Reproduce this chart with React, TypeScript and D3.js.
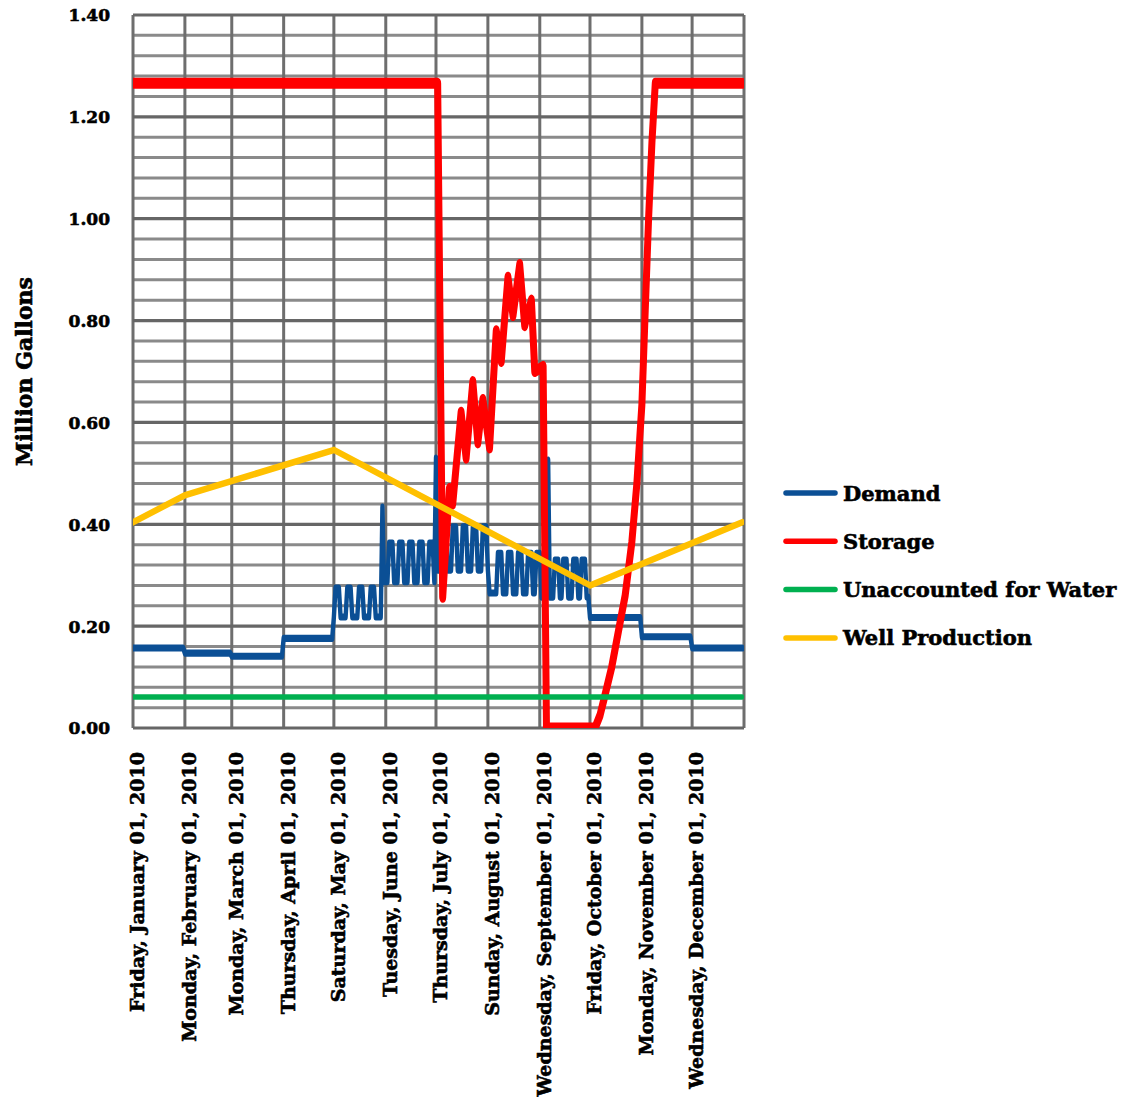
import React from "react";
import * as d3 from "d3";

// Daily water balance, 2010 (million gallons)
const yearStart = "2010-01-01";
const yearEnd = "2011-01-01";

const yTickValues = [0, 0.2, 0.4, 0.6, 0.8, 1.0, 1.2, 1.4];
const yMinorStep = 0.04;

const seriesNames = ["Demand", "Storage", "Unaccounted for Water", "Well Production"];
const seriesColors = ["#0b4f95", "#ff0000", "#00b050", "#ffc000"];

const demand: [string, number][] = [
  ["01-01", 0.157], ["01-31", 0.157],
  ["02-01", 0.147], ["02-28", 0.147],
  ["03-01", 0.141], ["03-31", 0.141],
  ["04-01", 0.176], ["04-30", 0.176],
  ["05-01", 0.218], ["05-02", 0.275], ["05-04", 0.275], ["05-05", 0.218],
  ["05-08", 0.218], ["05-09", 0.275], ["05-11", 0.275], ["05-12", 0.218],
  ["05-15", 0.218], ["05-16", 0.275], ["05-18", 0.275], ["05-19", 0.218],
  ["05-22", 0.218], ["05-23", 0.275], ["05-25", 0.275], ["05-26", 0.218],
  ["05-29", 0.218], ["05-30", 0.434], ["05-31", 0.287],
  ["06-02", 0.287], ["06-03", 0.363], ["06-05", 0.363], ["06-06", 0.287],
  ["06-08", 0.287], ["06-09", 0.363], ["06-11", 0.363], ["06-12", 0.287],
  ["06-14", 0.287], ["06-15", 0.363], ["06-17", 0.363], ["06-18", 0.287],
  ["06-20", 0.287], ["06-21", 0.363], ["06-23", 0.363], ["06-24", 0.287],
  ["06-26", 0.287], ["06-27", 0.363], ["06-29", 0.363], ["06-30", 0.287],
  ["07-01", 0.53], ["07-02", 0.31],
  ["07-04", 0.31], ["07-05", 0.395], ["07-07", 0.395], ["07-08", 0.31],
  ["07-10", 0.31], ["07-11", 0.395], ["07-13", 0.395], ["07-14", 0.31],
  ["07-16", 0.31], ["07-17", 0.395], ["07-19", 0.395], ["07-20", 0.31],
  ["07-22", 0.31], ["07-23", 0.395], ["07-25", 0.395], ["07-26", 0.31],
  ["07-28", 0.31], ["07-29", 0.395], ["07-31", 0.395], ["08-01", 0.31], ["08-02", 0.265],
  ["08-06", 0.265], ["08-07", 0.343], ["08-09", 0.343], ["08-10", 0.265],
  ["08-12", 0.265], ["08-13", 0.343], ["08-15", 0.343], ["08-16", 0.265],
  ["08-18", 0.265], ["08-19", 0.343], ["08-21", 0.343], ["08-22", 0.265],
  ["08-24", 0.265], ["08-25", 0.343], ["08-27", 0.343], ["08-28", 0.265],
  ["08-29", 0.265], ["08-30", 0.343], ["09-01", 0.343], ["09-02", 0.257],
  ["09-05", 0.257], ["09-06", 0.526], ["09-07", 0.257],
  ["09-09", 0.257], ["09-10", 0.33], ["09-12", 0.33], ["09-13", 0.257],
  ["09-14", 0.257], ["09-15", 0.33], ["09-17", 0.33], ["09-18", 0.257],
  ["09-20", 0.257], ["09-21", 0.33], ["09-23", 0.33], ["09-24", 0.257],
  ["09-25", 0.257], ["09-26", 0.33], ["09-28", 0.33], ["09-29", 0.257],
  ["09-30", 0.257], ["10-01", 0.217], ["10-31", 0.217],
  ["11-01", 0.179], ["11-30", 0.179],
  ["12-01", 0.157], ["12-31", 0.157],
];

const storage: [string, number][] = [
  ["01-01", 1.266], ["07-02", 1.266], ["07-05", 0.257], ["07-09", 0.47], ["07-11", 0.44],
  ["07-16", 0.62], ["07-19", 0.53], ["07-23", 0.68], ["07-26", 0.56], ["07-29", 0.645],
  ["08-02", 0.55], ["08-06", 0.78], ["08-09", 0.72], ["08-13", 0.885], ["08-16", 0.81],
  ["08-20", 0.91], ["08-23", 0.79], ["08-27", 0.84], ["08-29", 0.7], ["09-03", 0.71],
  ["09-05", 0.0], ["10-04", 0.0], ["10-07", 0.025], ["10-10", 0.065], ["10-14", 0.12],
  ["10-18", 0.19], ["10-22", 0.26], ["10-26", 0.365], ["10-29", 0.48], ["11-01", 0.635],
  ["11-03", 0.82], ["11-05", 1.0], ["11-07", 1.15], ["11-09", 1.266], ["12-31", 1.266],
];

const unaccounted: [string, number][] = [["01-01", 0.061], ["12-31", 0.061]];

const wellProduction: [string, number][] = [
  ["01-01", 0.404], ["02-01", 0.457], ["05-01", 0.546], ["10-01", 0.28], ["12-31", 0.404],
];

const parseDay = d3.timeParse("%Y-%m-%d");
const toPoints = (rows: [string, number][]) =>
  rows.map(([md, v]) => [parseDay(`2010-${md}`) as Date, v] as [Date, number]);

const FONT = "'DejaVu Serif', serif";
// heavy lettering: bold face plus a thin outline
const textStyle = {
  fontFamily: FONT,
  fontWeight: "bold" as const,
  fill: "#000",
  stroke: "#000",
  strokeWidth: 0.6,
};

export default function App() {
  const width = 1134;
  const height = 1116;
  const left = 133;
  const top = 15;
  const innerW = 611;
  const innerH = 713;
  // lines are drawn in a vertically stretched frame, so horizontal strokes read heavier
  const stretch = 1.6;

  const x = d3
    .scaleTime()
    .domain([parseDay(yearStart) as Date, parseDay(yearEnd) as Date])
    .range([0, innerW]);
  const y = d3.scaleLinear().domain([0, 1.4]).range([innerH, 0]);
  const yS = d3.scaleLinear().domain([0, 1.4]).range([innerH / stretch, 0]);

  const line = d3
    .line<[Date, number]>()
    .x((d) => x(d[0]))
    .y((d) => yS(d[1]));

  const monthTicks = d3.timeMonth.range(parseDay(yearStart) as Date, parseDay(yearEnd) as Date);
  const gridMonths = [...monthTicks, parseDay(yearEnd) as Date];
  const fmt = d3.timeFormat("%A, %B %d, %Y");

  const nMinor = Math.round(1.4 / yMinorStep);
  const hLines = d3.range(0, nMinor + 1).map((i) => ({ v: i * yMinorStep, major: i % 5 === 0 }));

  const series = [demand, storage, unaccounted, wellProduction].map(toPoints);
  const widths = [4.4, 7, 3.5, 4.2];

  return (
    <svg
      width={width}
      height={height}
      style={{ position: "absolute", left: 0, top: 0, display: "block" }}
      xmlns="http://www.w3.org/2000/svg"
    >
      <rect width={width} height={height} fill="#ffffff" />
      <defs>
        <clipPath id="plotClip">
          <rect x={0} y={0} width={innerW} height={innerH / stretch} />
        </clipPath>
      </defs>
      <g transform={`translate(${left},${top})`}>
        {hLines
          .filter((h) => !h.major)
          .map((h, i) => (
            <line key={`mn${i}`} x1={0} x2={innerW} y1={y(h.v)} y2={y(h.v)} stroke="#8a8a8a" strokeWidth={3} />
          ))}
        {gridMonths.map((d, i) => (
          <line key={`v${i}`} x1={x(d)} x2={x(d)} y1={0} y2={innerH} stroke="#6e6e6e" strokeWidth={3} />
        ))}
        {hLines
          .filter((h) => h.major)
          .map((h, i) => (
            <line key={`mj${i}`} x1={0} x2={innerW} y1={y(h.v)} y2={y(h.v)} stroke="#666666" strokeWidth={3.2} />
          ))}
        <g transform={`scale(1,${stretch})`} clipPath="url(#plotClip)">
          {series.map((pts, i) => (
            <path
              key={seriesNames[i]}
              d={line(pts) || ""}
              fill="none"
              stroke={seriesColors[i]}
              strokeWidth={widths[i]}
              strokeLinejoin="round"
              strokeLinecap="round"
            />
          ))}
        </g>
        {yTickValues.map((v) => (
          <text key={`yl${v}`} x={-23} y={y(v)} dy="0.38em" textAnchor="end" fontSize={17} {...textStyle}>
            {d3.format(".2f")(v)}
          </text>
        ))}
        {monthTicks.map((d, i) => (
          <text
            key={`xl${i}`}
            transform={`translate(${x(d) + 11},${innerH + 24}) rotate(-90)`}
            textAnchor="end"
            fontSize={19}
            {...textStyle}
          >
            {fmt(d)}
          </text>
        ))}
      </g>
      <text
        transform={`translate(32,${top + innerH / 2}) rotate(-90)`}
        textAnchor="middle"
        fontSize={22}
        {...textStyle}
      >
        Million Gallons
      </text>
      {seriesNames.map((name, i) => {
        const ly = 493 + i * 48.3;
        return (
          <g key={`lg${i}`}>
            <line x1={786} x2={835} y1={ly} y2={ly} stroke={seriesColors[i]} strokeWidth={5.5} strokeLinecap="round" />
            <text x={843} y={ly} dy="0.36em" fontSize={21} {...textStyle}>
              {name}
            </text>
          </g>
        );
      })}
    </svg>
  );
}
